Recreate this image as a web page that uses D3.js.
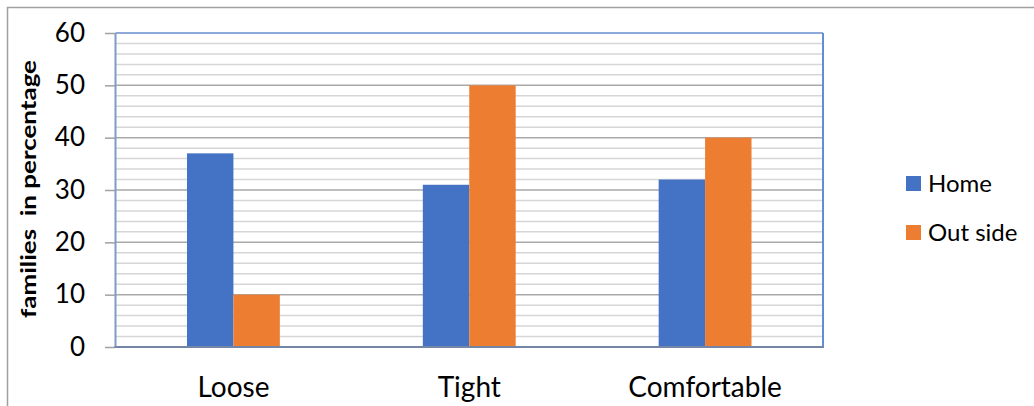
<!DOCTYPE html>
<html>
<head>
<meta charset="utf-8">
<script src="https://cdn.jsdelivr.net/npm/d3@7"></script>
<style>
  html, body { margin: 0; padding: 0; background: #fff; }
  svg { display: block; font-family: Lato, "Open Sans", sans-serif; }
</style>
</head>
<body>
<svg id="chart" width="1034" height="406"></svg>
<script>
// Chart data
const categories = ["Loose", "Tight", "Comfortable"];
const seriesNames = ["Home", "Out side"];
const homeValues = [37, 31, 32];
const outsideValues = [10, 50, 40];
const yTicks = [0, 10, 20, 30, 40, 50, 60];
const yTitle = "families  in percentage";

const colors = { "Home": "#4472C4", "Out side": "#ED7D31" };
const seriesValues = { "Home": homeValues, "Out side": outsideValues };

const svg = d3.select("#chart");

// outer chart frame (open on the right/bottom edges)
svg.append("path")
  .attr("d", "M7.5,406 L7.5,7.5 L1034,7.5")
  .attr("fill", "none")
  .attr("stroke", "#a0a0a0")
  .attr("stroke-width", 1.5);

const plot = { left: 115.5, right: 823, top: 33, bottom: 347 };

const y = d3.scaleLinear().domain([0, 60]).range([plot.bottom, plot.top]);
const x0 = d3.scaleBand().domain(categories).range([plot.left, plot.right]).paddingInner(0).paddingOuter(0);
const x1 = d3.scaleBand().domain(seriesNames).range([0, x0.bandwidth()]).paddingInner(0).paddingOuter(1.54);

// gridlines: minor every 2, major every 10
const minor = d3.range(2, 60, 2).filter(v => v % 10 !== 0);
svg.append("g").selectAll("line").data(minor).join("line")
  .attr("x1", plot.left).attr("x2", plot.right)
  .attr("y1", d => y(d)).attr("y2", d => y(d))
  .attr("stroke", "#d6d6d6").attr("stroke-width", 1.5);
svg.append("g").selectAll("line").data(yTicks.filter(v => v > 0 && v < 60)).join("line")
  .attr("x1", plot.left).attr("x2", plot.right)
  .attr("y1", d => y(d)).attr("y2", d => y(d))
  .attr("stroke", "#a9a9a9").attr("stroke-width", 1.5);

// bars
const groups = svg.append("g").selectAll("g").data(categories).join("g")
  .attr("transform", d => `translate(${x0(d)},0)`);
groups.selectAll("rect")
  .data((c, i) => seriesNames.map(s => ({ s, v: seriesValues[s][i] })))
  .join("rect")
  .attr("x", d => x1(d.s))
  .attr("width", x1.bandwidth())
  .attr("y", d => y(d.v))
  .attr("height", d => y(0) - y(d.v))
  .attr("fill", d => colors[d.s]);

// plot area frame
svg.append("line").attr("x1", plot.left).attr("x2", plot.right).attr("y1", plot.top).attr("y2", plot.top)
  .attr("stroke", "#8eaadb").attr("stroke-width", 2);
svg.append("line").attr("x1", plot.right).attr("x2", plot.right).attr("y1", plot.top).attr("y2", plot.bottom)
  .attr("stroke", "#5f8fd6").attr("stroke-width", 2);
svg.append("line").attr("x1", plot.left).attr("x2", plot.left).attr("y1", plot.top).attr("y2", plot.bottom)
  .attr("stroke", "#7f9cc9").attr("stroke-width", 2);

// y axis ticks and labels
const yAxis = d3.axisLeft(y).tickValues(yTicks).tickSize(10).tickPadding(20).tickSizeOuter(0);
const gy = svg.append("g").attr("transform", `translate(${plot.left - 0.5},0)`).call(yAxis);
gy.select(".domain").remove();
gy.selectAll(".tick line").attr("stroke", "#a0a0a0").attr("stroke-width", 1.5);
gy.selectAll(".tick text")
  .attr("font-size", 26).attr("fill", "#000")
  .attr("font-family", "Lato, 'Open Sans', sans-serif");

// x axis baseline
svg.append("line").attr("x1", plot.left - 1).attr("x2", plot.right + 1).attr("y1", plot.bottom).attr("y2", plot.bottom)
  .attr("stroke", "#7386a6").attr("stroke-width", 2);

// x category labels
const xAxis = d3.axisBottom(x0).tickSize(0).tickPadding(0);
const gx = svg.append("g").attr("transform", `translate(0,${plot.bottom})`).call(xAxis);
gx.select(".domain").remove();
gx.selectAll(".tick text")
  .attr("font-size", 28).attr("fill", "#000")
  .attr("font-family", "Lato, 'Open Sans', sans-serif")
  .attr("dy", null).attr("y", 50);

// y axis title
svg.append("text")
  .attr("transform", "translate(36,189) rotate(-90)")
  .attr("text-anchor", "middle")
  .attr("font-size", 20).attr("font-weight", "bold")
  .attr("xml:space", "preserve")
  .attr("textLength", 258)
  .attr("lengthAdjust", "spacingAndGlyphs")
  .style("white-space", "pre")
  .text(yTitle);

// legend
const legend = svg.append("g").selectAll("g").data(seriesNames).join("g")
  .attr("transform", (d, i) => `translate(906,${176 + i * 49})`);
legend.append("rect").attr("width", 15).attr("height", 15).attr("fill", d => colors[d]);
legend.append("text").attr("x", 22).attr("y", 16)
  .attr("font-size", 24).attr("fill", "#000")
  .text(d => d);
</script>
</body>
</html>
